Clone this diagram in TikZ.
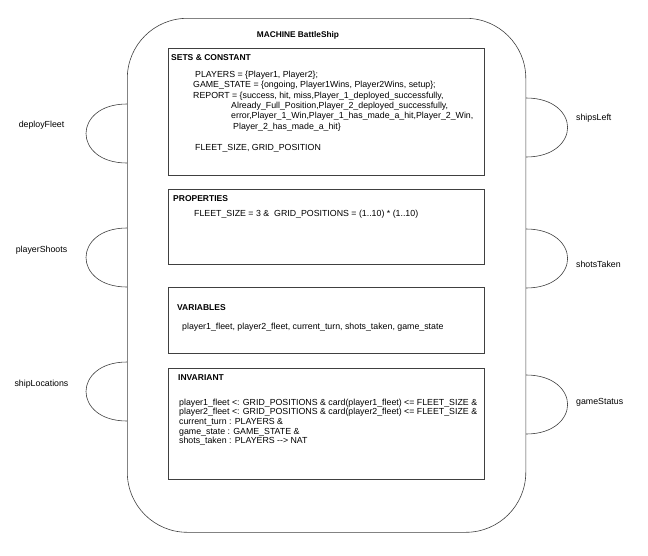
\documentclass[tikz,border=0pt]{standalone}
\usepackage{fontspec}
\setmainfont{Liberation Sans}
\usetikzlibrary{positioning}
\newcommand{\longto}{-\kern0pt-\kern0pt>}

\begin{document}
\begin{tikzpicture}[x=1pt,y=-1pt,
    every node/.style={font=\fontsize{8.8}{10.3}\selectfont, inner sep=0pt},
    line/.style={draw=black!75, line width=0.6pt},
    blockbox/.style={line, anchor=north west, minimum width=316pt},
    head/.style={anchor=base west, font=\fontsize{8.5}{10}\selectfont\bfseries},
    body/.style={anchor=north west, align=left}]
  \useasboundingbox (0,0) rectangle (648,555);
  % machine outline
  \node[line, rounded corners=60pt, anchor=north west, minimum width=398.5pt, minimum height=514pt] (machine) at (127,18) {};
  \node[font=\fontsize{8.3}{10}\selectfont\bfseries] (title) at (298,35) {MACHINE BattleShip};
  % clauses
  \node[blockbox, minimum height=127pt] (sets) at (168,48) {};
  \node[blockbox, minimum height=75pt] (props) at (168,189) {};
  \node[blockbox, minimum height=66pt] (vars) at (168,287) {};
  \node[blockbox, minimum height=111pt] (inv) at (168,368) {};
  \node[head] (setsHead) at (171,60) {SETS \& CONSTANT};
  \node[body] (setsBody) at (193,71) {\hspace{2pt}PLAYERS = \{Player1, Player2\};\\
    GAME\_STATE = \{ongoing, Player1Wins, Player2Wins, setup\};\\
    REPORT = \{success, hit, miss,Player\_1\_deployed\_successfully,\\
    \hspace{38pt}Already\_Full\_Position,Player\_2\_deployed\_successfully,\\
    \hspace{38pt}error,Player\_1\_Win,Player\_1\_has\_made\_a\_hit,Player\_2\_Win,\\
    \hspace{40pt}Player\_2\_has\_made\_a\_hit\}\\[11pt]
    \hspace{2pt}FLEET\_SIZE, GRID\_POSITION};
  \node[head] (propsHead) at (173,201) {PROPERTIES};
  \node[body] (propsBody) at (194,210) {FLEET\_SIZE = 3 \&\ \ GRID\_POSITIONS = (1..10) * (1..10)};
  \node[head] (varsHead) at (177,310) {VARIABLES};
  \node[body] (varsBody) at (182,323) {player1\_fleet, player2\_fleet, current\_turn, shots\_taken, game\_state};
  \node[head] (invHead) at (178,380) {INVARIANT};
  \node[body, font=\fontsize{8.8}{9.3}\selectfont] (invBody) at (179,399) {player1\_fleet <: GRID\_POSITIONS \& card(player1\_fleet) <= FLEET\_SIZE \&\\
    player2\_fleet <: GRID\_POSITIONS \& card(player2\_fleet) <= FLEET\_SIZE \&\\[0.8pt]
    current\_turn : PLAYERS \&\\
    game\_state : GAME\_STATE \&\\
    shots\_taken : PLAYERS \longto{} NAT};
  % operations on the left
  \foreach \pname/\ptop/\ply in {deployFleet/104/125, playerShoots/228/250, shipLocations/362/384}{
    \draw[line] (machine.west |- 0,\ptop) .. controls +(-28,0) and +(0,-14) .. ++(-41,29.5)
      .. controls +(0,14) and +(-28,0) .. ++(41,29.5);
    \node (\pname) at (41.5,\ply) {\pname};
  }
  % operations on the right
  \foreach \pname/\ptop/\ply in {shipsLeft/98/118, shotsTaken/229/264, gameStatus/375/402}{
    \draw[line] (machine.east |- 0,\ptop) .. controls +(28,0) and +(0,-14) .. ++(41.5,29.5)
      .. controls +(0,14) and +(28,0) .. ++(-41.5,29.5);
    \node[anchor=west] (\pname) at (576,\ply) {\pname};
  }
\end{tikzpicture}
\end{document}
